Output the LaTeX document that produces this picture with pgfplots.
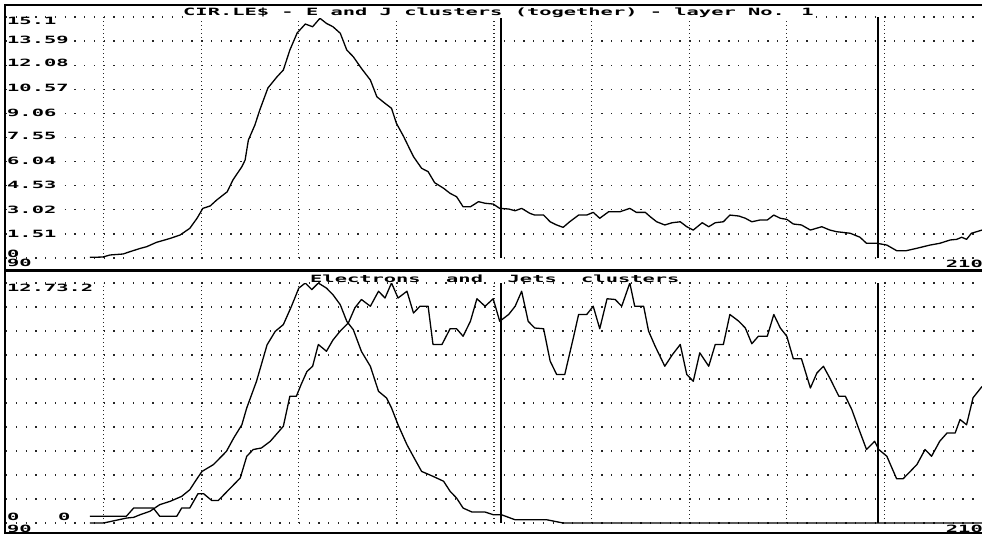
\documentclass[border=0pt]{standalone}
\usepackage{fontspec}
\usepackage{pgfplots}
\pgfplotsset{compat=1.18}
\newfontfamily\dosfont{DejaVu Sans Mono}[FakeStretch=2.04]
\tikzset{lab/.style={anchor=base west, inner sep=0pt, fill=white, text=black,
  font={\dosfont\bfseries\fontsize{10}{12}\selectfont}},
  curve/.style={black, line width=1.3pt, line join=round, mark=none}}
\pgfplotsset{dosaxis/.style={scale only axis, width=976pt, xmin=90, xmax=210,
  axis line style={draw=none}, tick style={draw=none}, major tick length=0pt,
  xticklabels={}, yticklabels={}, xtick={102,114,...,198},
  grid=major,
  major x grid style={black!85, line width=1.3pt, line cap=butt, dash pattern=on 1.3pt off 2.7pt},
  major y grid style={black!85, line width=1.3pt, line cap=butt, dash pattern=on 1.3pt off 8.46pt}}}
\begin{document}
\begin{tikzpicture}
\path[use as bounding box] (0pt,0pt) rectangle (982pt,-540pt);
% ---------- top panel ----------
\begin{axis}[dosaxis, at={(6pt,-258pt)}, anchor=south west, height=241pt,
  ymin=0, ymax=15.1, ytick={0,1.51,3.02,4.53,6.04,7.55,9.06,10.57,12.08,13.59,15.1}]
\addplot[curve] coordinates {
(100.3,0.04)(101.9,0.06)(102.8,0.19)(104.4,0.25)(105.2,0.39)(106.5,0.6)(107.3,0.71)
(108.5,0.98)(110.2,1.23)(111.4,1.44)(112.6,1.86)(113.5,2.5)(114.2,3.11)(115.1,3.26)
(115.9,3.63)(117.2,4.15)(117.9,4.89)(119.0,5.72)(119.4,6.14)(119.8,7.39)(120.6,8.33)
(121.2,9.27)(122.2,10.65)(123.3,11.34)(124.1,11.78)(124.9,13.03)(125.8,14.1)(126.8,14.66)
(127.7,14.49)(128.6,15.02)(129.4,14.7)(130.2,14.49)(131.1,14.08)(131.9,13.03)(132.7,12.61)
(133.7,11.88)(134.8,11.15)(135.6,10.1)(136.6,9.69)(137.4,9.38)(138.0,8.44)(138.9,7.6)
(139.5,6.97)(140.1,6.35)(141.1,5.62)(141.9,5.41)(142.7,4.72)(143.8,4.37)(144.6,4.05)
(145.4,3.84)(146.2,3.21)(147.1,3.21)(148.1,3.53)(148.9,3.43)(149.9,3.38)(150.7,3.11)
(151.8,3.07)(152.6,2.96)(153.4,3.11)(154.4,2.8)(155.0,2.69)(156.1,2.69)(156.9,2.27)
(157.7,2.07)(158.5,1.92)(159.3,2.27)(160.4,2.69)(161.4,2.69)(162.2,2.86)(163.0,2.49)
(164.1,2.9)(165.5,2.9)(166.7,3.11)(167.5,2.86)(168.6,2.86)(169.2,2.59)(170.0,2.27)
(171.0,2.07)(171.9,2.21)(172.9,2.27)(173.7,1.96)(174.5,1.75)(175.0,1.96)(175.6,2.21)
(176.4,1.96)(177.2,2.21)(178.2,2.27)(179.0,2.69)(180.1,2.63)(180.9,2.49)(181.7,2.27)
(182.7,2.38)(183.6,2.38)(184.4,2.69)(185.2,2.49)(186.0,2.42)(186.8,2.13)(187.8,2.07)
(188.9,1.75)(190.3,1.96)(191.3,1.75)(192.1,1.65)(193.8,1.55)(195.0,1.3)(195.8,0.92)
(197.1,0.92)(198.3,0.81)(199.5,0.46)(200.7,0.46)(202.0,0.61)(202.8,0.71)(203.6,0.81)
(204.8,0.92)(206.1,1.13)(206.9,1.17)(207.5,1.3)(208.1,1.17)(208.7,1.55)(210.0,1.75)
};
\draw[line width=2pt] (axis cs:150.9,0) -- (axis cs:150.9,15.1);
\draw[line width=2pt] (axis cs:197.2,0) -- (axis cs:197.2,15.1);
\end{axis}
% ---------- bottom panel: electrons ----------
\begin{axis}[dosaxis, at={(6pt,-523pt)}, anchor=south west, height=240pt,
  ymin=0, ymax=12.7, ytick={0,1.27,2.54,3.81,5.08,6.35,7.62,8.89,10.16,11.43,12.7}]
\addplot[curve] coordinates {
(100.3,0)(102.0,0)(104.8,0.26)(105.7,0.30)(106.5,0.44)(107.7,0.62)(108.9,0.97)
(110.2,1.15)(111.6,1.41)(112.6,1.76)(113.4,2.29)(114.1,2.73)(115.5,3.09)(117.1,3.79)
(118.0,4.50)(119.0,5.2)(119.6,6.09)(120.8,7.5)(122.1,9.43)(123.1,10.14)(124.1,10.5)
(125.1,11.47)(126.0,12.43)(126.8,12.7)(127.6,12.35)(128.4,12.7)(129.4,12.43)(130.2,12.08)
(131.1,11.55)(131.9,10.67)(132.7,10.23)(133.7,9.08)(134.8,8.29)(135.8,6.97)(136.8,6.61)
(137.4,6.09)(138.2,5.2)(139.3,4.14)(140.3,3.35)(141.1,2.73)(142.5,2.47)(143.8,2.21)
(144.6,1.68)(145.4,1.32)(146.2,0.79)(147.3,0.58)(148.9,0.58)(149.9,0.44)(150.9,0.44)
(152.6,0.17)(156.5,0.17)(158.5,0)(210,0)
};
\draw[line width=2pt] (axis cs:150.9,0) -- (axis cs:150.9,12.7);
\draw[line width=2pt] (axis cs:197.2,0) -- (axis cs:197.2,12.7);
\end{axis}
% ---------- bottom panel: jets ----------
\begin{axis}[dosaxis, at={(6pt,-523pt)}, anchor=south west, height=240pt,
  ymin=0, ymax=3.2, grid=none, ytick=\empty, xtick=\empty]
\addplot[curve] coordinates {
(100.3,0.09)(104.8,0.09)(105.7,0.2)(108.1,0.2)(108.9,0.09)(111.0,0.09)(111.6,0.2)
(112.6,0.2)(113.6,0.39)(114.3,0.39)(115.3,0.30)(116.1,0.30)(118.8,0.60)(119.6,0.89)
(120.4,0.98)(121.4,1.0)(122.5,1.09)(124.1,1.29)(124.9,1.69)(125.7,1.69)(126.3,1.85)
(127.0,2.02)(127.7,2.09)(128.4,2.38)(129.4,2.29)(130.2,2.44)(131.1,2.56)(132.1,2.67)
(132.9,2.87)(133.7,2.98)(134.8,2.89)(135.8,3.09)(136.6,3.0)(137.4,3.2)(138.2,3.0)
(139.3,3.09)(140.1,2.8)(140.9,2.89)(141.9,2.89)(142.5,2.38)(143.6,2.38)(144.6,2.59)
(145.4,2.59)(146.2,2.49)(147.1,2.69)(147.9,2.99)(148.9,2.89)(149.9,2.99)(150.7,2.69)
(151.8,2.78)(152.6,2.89)(153.4,3.09)(154.2,2.69)(155.0,2.6)(156.1,2.59)(156.9,2.16)
(157.7,1.98)(158.7,1.98)(159.8,2.49)(160.4,2.78)(161.4,2.78)(162.2,2.89)(163.0,2.59)
(163.9,2.99)(164.9,2.98)(165.7,2.89)(166.7,3.2)(167.3,2.89)(168.4,2.89)(169.0,2.56)
(169.8,2.36)(171.0,2.09)(171.9,2.24)(172.9,2.38)(173.7,1.98)(174.5,1.89)(175.3,2.27)
(176.4,2.09)(177.2,2.38)(178.2,2.38)(179.0,2.78)(180.1,2.69)(180.9,2.6)(181.7,2.39)
(182.5,2.49)(183.6,2.49)(184.4,2.78)(185.2,2.6)(186.0,2.49)(186.8,2.19)(187.8,2.19)
(188.9,1.8)(189.7,2.0)(190.5,2.09)(191.3,1.93)(192.4,1.69)(193.2,1.69)(194.0,1.51)
(194.8,1.27)(195.8,0.98)(196.8,1.09)(197.3,0.98)(198.3,0.89)(199.1,0.69)(199.5,0.59)
(200.3,0.59)(201.2,0.69)(202.0,0.78)(203.0,0.98)(203.8,0.89)(204.8,1.09)(205.7,1.2)
(206.7,1.2)(207.3,1.38)(208.1,1.31)(208.9,1.67)(210.0,1.82)
};
\end{axis}
% ---------- frame ----------
\draw[line width=2pt] (5pt,-4pt) -- (5pt,-534pt);
\draw[line width=2pt] (4pt,-5pt) -- (982pt,-5pt);
\draw[line width=2.5pt] (5pt,-270.5pt) -- (982pt,-270.5pt);
\draw[line width=2pt] (4pt,-533.3pt) -- (982pt,-533.3pt);
% ---------- texts ----------
\node[lab] at (183pt,-15.5pt) {CIR.LE\$ - E and J clusters (together) - layer No. 1};
\node[lab] at (7pt,-25pt) {15.1};
\node[lab] at (7pt,-43.3pt) {13.59};
\node[lab] at (7pt,-67pt) {12.08};
\node[lab] at (7pt,-91.7pt) {10.57};
\node[lab] at (7pt,-116.7pt) {9.06};
\node[lab] at (7pt,-140pt) {7.55};
\node[lab] at (7pt,-165pt) {6.04};
\node[lab] at (7pt,-189pt) {4.53};
\node[lab] at (7pt,-213pt) {3.02};
\node[lab] at (7pt,-237pt) {1.51};
\node[lab] at (7pt,-257pt) {0};
\node[lab] at (7pt,-266pt) {90};
\node[lab, anchor=base east] at (983pt,-267pt) {210};
\node[lab] at (310pt,-282pt) {Electrons};
\node[lab] at (446pt,-282pt) {and};
\node[lab] at (507.5pt,-282pt) {Jets};
\node[lab] at (581pt,-282pt) {clusters};
\node[lab] at (7pt,-291pt) {12.7};
\node[lab] at (56.2pt,-291pt) {3.2};
\node[lab] at (7pt,-520pt) {0};
\node[lab] at (58pt,-520pt) {0};
\node[lab] at (7pt,-532pt) {90};
\node[lab, anchor=base east] at (983pt,-532pt) {210};
\end{tikzpicture}
\end{document}
